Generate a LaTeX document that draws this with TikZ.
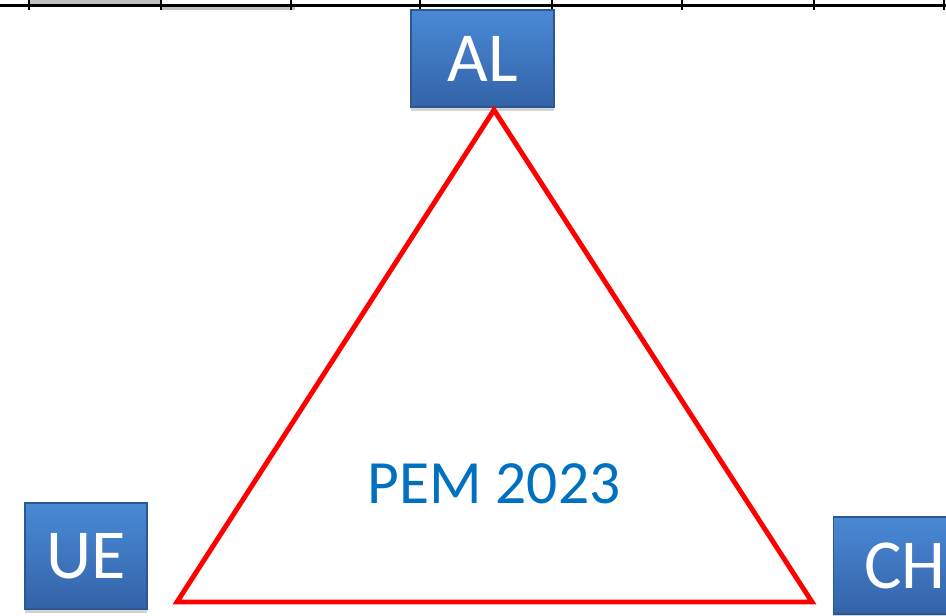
\documentclass[tikz,border=0pt]{standalone}
\usepackage{fontspec}
\setmainfont{Carlito}
\usetikzlibrary{shadows}
\definecolor{boxblue}{HTML}{3E7AC6}
\definecolor{boxtop}{HTML}{4A89D6}
\definecolor{boxbot}{HTML}{3363A8}
\definecolor{boxedge}{HTML}{2C5892}
\definecolor{pemblue}{HTML}{0070C0}
\tikzset{
  country/.style={draw=boxedge,line width=0.6pt,top color=boxtop,bottom color=boxbot,
    text=white,font=\fontsize{40}{40}\selectfont,inner sep=0pt,
    drop shadow={shadow xshift=0pt,shadow yshift=-0.08cm,opacity=0.35}},
  tickmark/.style={line width=1.3pt}
}
\begin{document}
\begin{tikzpicture}[x=0.02cm,y=0.02cm]
\useasboundingbox (0,0) rectangle (946,615);
\clip (0,0) rectangle (946,615);
% ruler at the top
\fill[gray!50] (29,609.5) rectangle (161,615);
\fill[gray!50] (161,605) rectangle (295,609.5);
\draw[line width=1.5pt] (0,609.3) -- (946,609.3);
\foreach \x in {29,161,291,420,552,682,814,944}
  \draw[tickmark] (\x,615) -- (\x,605);
% the three boxes
\node[country,minimum width=2.86cm,minimum height=1.94cm] (AL) at (482.5,556.5) {AL};
\node[country,minimum width=2.44cm,minimum height=2.12cm] (UE) at (86,59) {UE};
\node[country,minimum width=2.88cm,minimum height=1.94cm] (CH) at (905,49.5) {CH};
% the triangle
\coordinate (A) at (494,505);
\coordinate (B) at (177,13);
\coordinate (C) at (812,13);
\draw[red,line width=2.8pt] (A)--(B)--(C)--cycle;
\node[text=pemblue,font=\fontsize{35}{35}\selectfont] (pem) at (494,131) {PEM 2023};
\end{tikzpicture}
\end{document}
